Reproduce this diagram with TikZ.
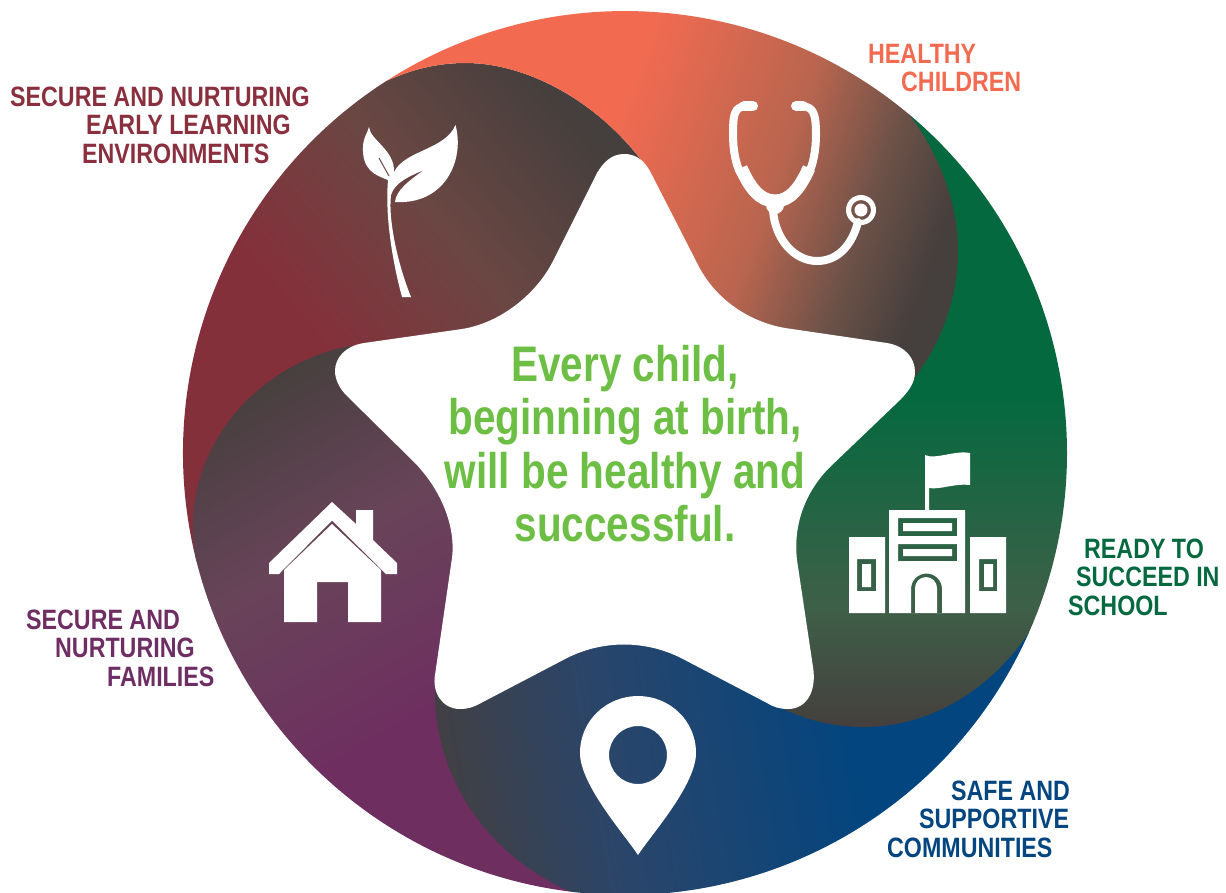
\documentclass[tikz,border=0pt]{standalone}
\usepackage{fontspec}
\newfontfamily\narrowfont{Liberation Sans}[FakeStretch=0.81]
\newfontfamily\labelfont{Liberation Sans}[FakeStretch=0.83]
\definecolor{darkc}{HTML}{453F3D}
\definecolor{coralc}{HTML}{F26B51}
\definecolor{coralm}{HTML}{B8654F}
\definecolor{coraln}{HTML}{6B5148}
\definecolor{redc}{HTML}{84303B}
\definecolor{redm}{HTML}{6A4743}
\definecolor{greenc}{HTML}{04693F}
\definecolor{greenm}{HTML}{3E6048}
\definecolor{bluec}{HTML}{03457F}
\definecolor{bluem}{HTML}{2B4569}
\definecolor{purplec}{HTML}{6E2E60}
\definecolor{purplem}{HTML}{684459}
\definecolor{lineredc}{HTML}{8A2F3D}
\definecolor{linepurplec}{HTML}{6E2E63}
\definecolor{childc}{HTML}{6DBE45}
\pgfdeclareverticalshading{coralswirl}{100bp}{color(0bp)=(darkc); color(26bp)=(darkc); color(33bp)=(coraln); color(42bp)=(coralm); color(58bp)=(coralc); color(100bp)=(coralc)}
\pgfdeclareverticalshading{redswirl}{100bp}{color(0bp)=(darkc); color(24bp)=(darkc); color(41bp)=(redm); color(58bp)=(redc); color(100bp)=(redc)}
\pgfdeclareverticalshading{purpleswirl}{100bp}{color(0bp)=(purplec); color(40bp)=(purplec); color(60bp)=(purplem); color(78bp)=(darkc); color(100bp)=(darkc)}
\pgfdeclareverticalshading{blueswirl}{100bp}{color(0bp)=(bluec); color(40bp)=(bluec); color(62bp)=(bluem); color(78bp)=(darkc); color(100bp)=(darkc)}
\pgfdeclareverticalshading{greenswirl}{100bp}{color(0bp)=(darkc); color(25bp)=(darkc); color(35bp)=(greenm); color(52bp)=(greenc); color(100bp)=(greenc)}
\tikzset{
  x=1pt, y=-1pt,
  every label line/.style={font=\labelfont\bfseries\fontsize{28}{28.5}\selectfont, align=left, inner sep=0pt, anchor=west},
  icon/.style={fill=white, draw=none},
  tube/.style={draw=white, line width=8, line cap=round},
}

\begin{document}
\begin{tikzpicture}
        \useasboundingbox (0,0) rectangle (1226,892);
        % ends of the arcs
        \coordinate (cen) at (625,450);
        \coordinate (t1) at (196.5,561.4);
        \coordinate (t2) at (386.2,81.1);
        \coordinate (t3) at (909.1,114.4);
        \coordinate (t4) at (1028.8,632.8);
        \coordinate (t5) at (569.6,891.5);

        % swirls
        \path[shading=redswirl, shading angle=130]
          (t1) arc (165.8:237.3:442) .. controls (415,68) and (440,63) .. (466,63)
          .. controls (525,63) and (600,100) .. (650,172) -- (cen) -- (345,352) -- cycle;
        \path[shading=purpleswirl, shading angle=30]
          (t1) .. controls (175,460) and (250,365) .. (350,346) -- (cen) -- (437,690) -- (480,800)
          -- (t5) arc (97.2:165.8:442) -- cycle;
        \path[shading=blueswirl, shading angle=100]
          (t5) .. controls (480,850) and (430,770) .. (435,675) -- (cen) -- (790,700) -- (900,680)
          -- (t4) arc (24:97.2:442) -- cycle;
        \path[shading=greenswirl]
          (t3) arc (310:384:442) .. controls (990,690) and (930,727) .. (863,727)
          .. controls (830,727) and (800,718) .. (775,705) -- (cen) -- (913,380) -- (940,250) -- cycle;
        \path[shading=coralswirl, shading angle=70]
          (t2) arc (237.3:310:442) .. controls (940,155) and (958,205) .. (958,250)
          .. controls (958,300) and (940,345) .. (913,380) -- (cen) -- (650,172)
          .. controls (600,100) and (525,63) .. (466,63) .. controls (440,63) and (415,68) .. (t2) -- cycle;

        % star
        \fill[white] (624,154) .. controls (640,154) and (647,165) .. (652,175) -- (697,263)
          .. controls (715,300) and (750,322) .. (785,328) -- (887,343)
          .. controls (905,346) and (915,358) .. (915,372) .. controls (915,383) and (908,392) .. (900,400)
          -- (830,467) .. controls (805,492) and (793,525) .. (797,560) -- (813,667)
          .. controls (817,692) and (806,709) .. (788,709) .. controls (780,709) and (773,707) .. (767,703)
          -- (681,658) .. controls (645,640) and (603,640) .. (567,658) -- (481,703)
          .. controls (474,707) and (468,709) .. (460,709) .. controls (442,709) and (432,692) .. (435,675)
          -- (452,558) .. controls (456,525) and (440,488) .. (413,461) -- (347,396)
          .. controls (340,389) and (335,380) .. (335,371) .. controls (335,358) and (345,346) .. (364,343)
          -- (462,329) .. controls (500,323) and (535,295) .. (552,263) -- (597,173)
          .. controls (603,163) and (611,154) .. (624,154) -- cycle;

        % sprout
        \fill[icon] (402,297) .. controls (392,260) and (385,215) .. (388,180)
          .. controls (375,175) and (362,170) .. (363,147) .. controls (363,138) and (368,132) .. (369,127)
          .. controls (370,140) and (395,150) .. (394,172) .. controls (405,150) and (445,150) .. (455.5,125)
          .. controls (465,160) and (445,205) .. (395,202) .. controls (396,190) and (410,180) .. (424,170)
          .. controls (410,176) and (395,182) .. (391,195) .. controls (388,220) and (398,265) .. (411,297) -- cycle;
        \draw[redm, line width=1] (379,158) -- (389,176);

        % stethoscope
        \draw[tube, line width=10] (744,106) -- (753,106);
        \draw[tube, line width=10] (796,106) -- (803,106);
        \draw[tube] (745,106) .. controls (735,108) and (733,112) .. (733,135) .. controls (733,150) and (736,165) .. (740,172);
        \draw[tube] (803,106) .. controls (813,108) and (816,112) .. (816,135) .. controls (816,150) and (813,165) .. (809,172);
        \draw[tube, line width=13, line cap=butt] (741,168) .. controls (750,188) and (760,201) .. (775,201)
          .. controls (790,201) and (800,188) .. (809,168);
        \fill[icon] (775,205) circle (9);
        \draw[tube] (773,210) .. controls (775,240) and (795,261) .. (817,261) .. controls (838,261) and (852,245) .. (858,222);
        \fill[icon, even odd rule] (861,210) circle (15) (861,210) circle (10) (861,210) circle (6.5);

        % school
        \fill[icon] (925,510) -- (925,455) .. controls (935,460) and (955,450) .. (970,453) -- (970,485)
          .. controls (955,483) and (940,490) .. (929,488) -- (929,510) -- cycle;
        \fill[icon, even odd rule] (889,510) rectangle (965,613)
          (898,518) rectangle (957,536) (903,523) rectangle (952,531)
          (898,544) rectangle (957,561) (903,549) rectangle (952,556)
          (911,613) -- (911,589) arc (180:360:15.5) -- (942,613) -- cycle
          (915,613) -- (915,588) arc (180:360:11) -- (937,613) -- cycle;
        \fill[icon, even odd rule] (849,537) rectangle (885,613)
          (857,559) rectangle (876,591) (862,564) rectangle (871,587);
        \fill[icon, even odd rule] (970,537) rectangle (1006,613)
          (979,559) rectangle (997,591) (984,564) rectangle (993,587);

        % pin
        \fill[icon, even odd rule] (638,855) .. controls (625,835) and (580,785) .. (580,753)
          .. controls (580,720) and (607,696) .. (638,696) .. controls (669,696) and (696,720) .. (696,753)
          .. controls (696,785) and (651,835) .. (638,855) -- cycle (638,755) circle (29);

        % house
        \fill[icon] (332,502) -- (356,524) -- (356,510) -- (373,510) -- (373,540) -- (397,563) -- (397,574)
          -- (386,574) -- (332,520.5) -- (279,574) -- (269,574) -- (269,563) -- cycle;
        \fill[icon] (332,524) -- (381,570) -- (381,622) -- (348,622) -- (348,582) -- (317,582) -- (317,622)
          -- (284,622) -- (284,570) -- cycle;

        % labels
        \node[every label line, text=coralc] (healthy) at (868,68) {HEALTHY\\\hspace*{33pt}CHILDREN};
        \node[every label line, text=greenc] (ready) at (1068,577) {\hspace*{16pt}READY TO\\\hspace*{8pt}SUCCEED IN\\SCHOOL};
        \node[every label line, text=bluec] (safe) at (887,819) {\hspace*{64pt}SAFE AND\\\hspace*{32pt}SUPPORTIVE\\COMMUNITIES};
        \node[every label line, text=linepurplec] (families) at (26,648) {SECURE AND\\\hspace*{29pt}NURTURING\\\hspace*{81pt}FAMILIES};
        \node[every label line, text=lineredc] (learning) at (10,125) {SECURE AND NURTURING\\\hspace*{76pt}EARLY LEARNING\\\hspace*{72pt}ENVIRONMENTS};
        \node[font=\narrowfont\bfseries\fontsize{50}{53.5}\selectfont, text=childc, align=center, inner sep=0pt] (child)
          at (625,443.5) {Every child,\\beginning at birth,\\will be healthy and\\successful.};
\end{tikzpicture}
\end{document}
